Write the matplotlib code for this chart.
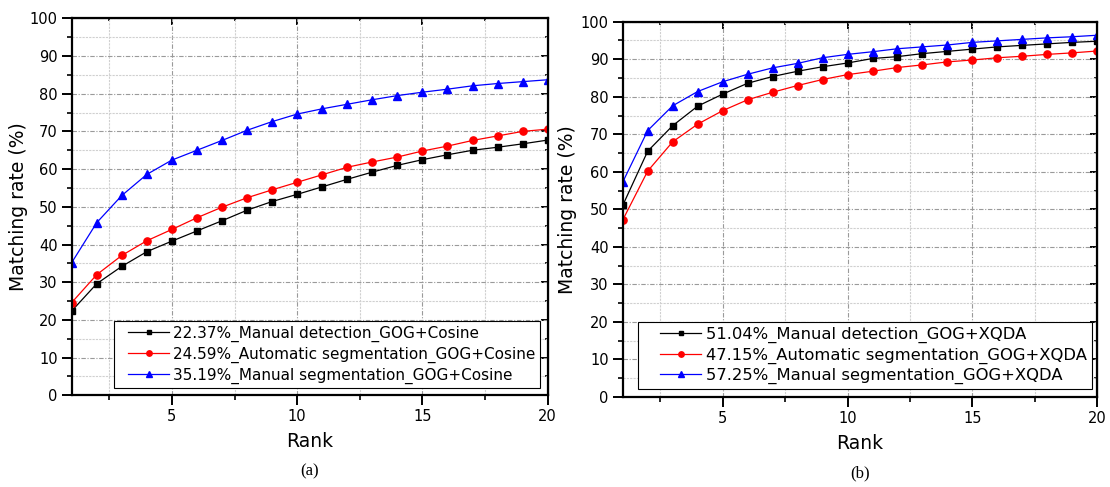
"""Cumulative matching curves for GOG+Cosine (a) and GOG+XQDA (b)."""

import matplotlib

matplotlib.use("Agg")

import matplotlib.pyplot as plt
import numpy as np
from matplotlib.legend_handler import HandlerLine2D
from matplotlib.ticker import MultipleLocator

rank = np.arange(1, 21)

# panel (a): GOG + Cosine
cos_manual_det = [22.37, 29.6, 34.2, 38.1, 40.9, 43.6, 46.3, 49.1, 51.4, 53.3,
                  55.3, 57.3, 59.2, 61.0, 62.5, 63.8, 65.0, 65.8, 66.7, 67.7]
cos_auto_seg = [24.59, 32.0, 37.1, 41.0, 44.0, 47.1, 49.9, 52.4, 54.5, 56.5,
                58.5, 60.5, 61.9, 63.2, 64.8, 66.1, 67.6, 68.8, 70.0, 70.6]
cos_manual_seg = [35.19, 45.8, 53.0, 58.6, 62.4, 65.0, 67.6, 70.3, 72.6, 74.6,
                  76.0, 77.2, 78.4, 79.5, 80.4, 81.2, 82.1, 82.7, 83.2, 83.7]
cos_labels = [
    "22.37%_Manual detection_GOG+Cosine",
    "24.59%_Automatic segmentation_GOG+Cosine",
    "35.19%_Manual segmentation_GOG+Cosine",
]

# panel (b): GOG + XQDA
xqda_manual_det = [51.04, 65.5, 72.3, 77.5, 80.7, 83.6, 85.4, 86.8, 88.0, 89.0,
                   90.2, 90.7, 91.5, 92.1, 92.7, 93.3, 93.7, 94.1, 94.5, 94.8]
xqda_auto_seg = [47.15, 60.2, 68.0, 72.7, 76.3, 79.2, 81.2, 83.0, 84.6, 85.9,
                 86.8, 87.8, 88.5, 89.3, 89.8, 90.4, 90.8, 91.3, 91.7, 92.2]
xqda_manual_seg = [57.25, 71.0, 77.6, 81.4, 84.0, 86.0, 87.7, 88.9, 90.4, 91.3,
                   92.0, 92.8, 93.3, 93.8, 94.5, 94.9, 95.3, 95.7, 96.0, 96.4]
xqda_labels = [
    "51.04%_Manual detection_GOG+XQDA",
    "47.15%_Automatic segmentation_GOG+XQDA",
    "57.25%_Manual segmentation_GOG+XQDA",
]

styles = [("black", "s", 4.6), ("red", "o", 5.2), ("blue", "^", 6.0)]


class PaddedLineHandler(HandlerLine2D):
    """Line handle that leaves an empty gap on its left (Origin-like legend)."""

    def __init__(self, lpad, **kw):
        super().__init__(**kw)
        self._lpad = lpad

    def get_xdata(self, legend, xdescent, ydescent, width, height, fontsize):
        x0 = -xdescent + self._lpad * fontsize
        x1 = -xdescent + width
        return np.array([x0, x1]), np.array([(x0 + x1) / 2])


def draw_panel(ax, series, labels, caption, ylab_x, leg_anchor, leg_fs, lpad, hlen, lspace):
    lines = []
    for vals, lab, (col, mk, ms) in zip(series, labels, styles):
        (ln,) = ax.plot(rank, vals, color=col, marker=mk, markersize=ms, linewidth=0.9, label=lab)
        lines.append(ln)

    ax.set_xlim(1, 20)
    ax.set_ylim(0, 100)
    ax.xaxis.set_major_locator(MultipleLocator(5))
    ax.xaxis.set_minor_locator(MultipleLocator(2.5))
    ax.yaxis.set_major_locator(MultipleLocator(10))
    ax.yaxis.set_minor_locator(MultipleLocator(5))
    ax.grid(which="major", color="#9a9a9a", linestyle=(0, (4, 1.5, 1, 1.5)), linewidth=0.8)
    ax.grid(which="minor", color="#d0d0d0", linestyle=(0, (2, 1)), linewidth=0.8)
    ax.set_axisbelow(True)
    for sp in ax.spines.values():
        sp.set_linewidth(1.6)
    ax.tick_params(which="major", direction="out", length=7, width=1.4, pad=3, labelsize=10.5)
    ax.tick_params(which="minor", direction="out", length=3.6, width=1.2)

    # mirrored inward ticks on top and right, Origin style
    top = ax.secondary_xaxis("top")
    top.xaxis.set_major_locator(MultipleLocator(5))
    top.xaxis.set_minor_locator(MultipleLocator(2.5))
    top.tick_params(which="major", direction="in", length=5, width=1.4, labeltop=False)
    top.tick_params(which="minor", direction="in", length=2.5, width=1.2)
    right = ax.secondary_yaxis("right")
    right.yaxis.set_major_locator(MultipleLocator(10))
    right.yaxis.set_minor_locator(MultipleLocator(5))
    right.tick_params(which="major", direction="in", length=5, width=1.4, labelright=False)
    right.tick_params(which="minor", direction="in", length=2.5, width=1.2)

    ax.set_xlabel("Rank", fontsize=13.5)
    ax.xaxis.set_label_coords(0.5, -0.098)
    ax.set_ylabel("Matching rate (%)", fontsize=13.5, va="center")
    ax.yaxis.set_label_coords(ylab_x, 0.5)

    leg = ax.legend(loc="lower right", bbox_to_anchor=leg_anchor, borderaxespad=0,
                    fontsize=leg_fs, fancybox=False, framealpha=1, edgecolor="black",
                    borderpad=0.3, labelspacing=lspace, handlelength=hlen,
                    handletextpad=0.3, markerscale=0.75,
                    handler_map={ln: PaddedLineHandler(lpad) for ln in lines})
    leg.get_frame().set_linewidth(0.8)

    ax.text(0.5, -0.203, caption, transform=ax.transAxes, ha="center", va="center",
            fontsize=12, family="Liberation Serif")


fig = plt.figure(figsize=(11.1, 4.87), dpi=100)
ax_a = fig.add_axes([0.0646, 0.1883, 0.4288, 0.7741])
ax_b = fig.add_axes([0.5610, 0.1848, 0.4276, 0.7706])

draw_panel(ax_a, [cos_manual_det, cos_auto_seg, cos_manual_seg], cos_labels, "(a)",
           -0.111, (0.984, 0.019), 11, 0.68, 3.3, 0.31)
draw_panel(ax_b, [xqda_manual_det, xqda_auto_seg, xqda_manual_seg], xqda_labels, "(b)",
           -0.116, (0.989, 0.021), 11.8, 1.04, 3.54, 0.27)

fig.savefig("out.png", dpi=100)
plt.close(fig)
